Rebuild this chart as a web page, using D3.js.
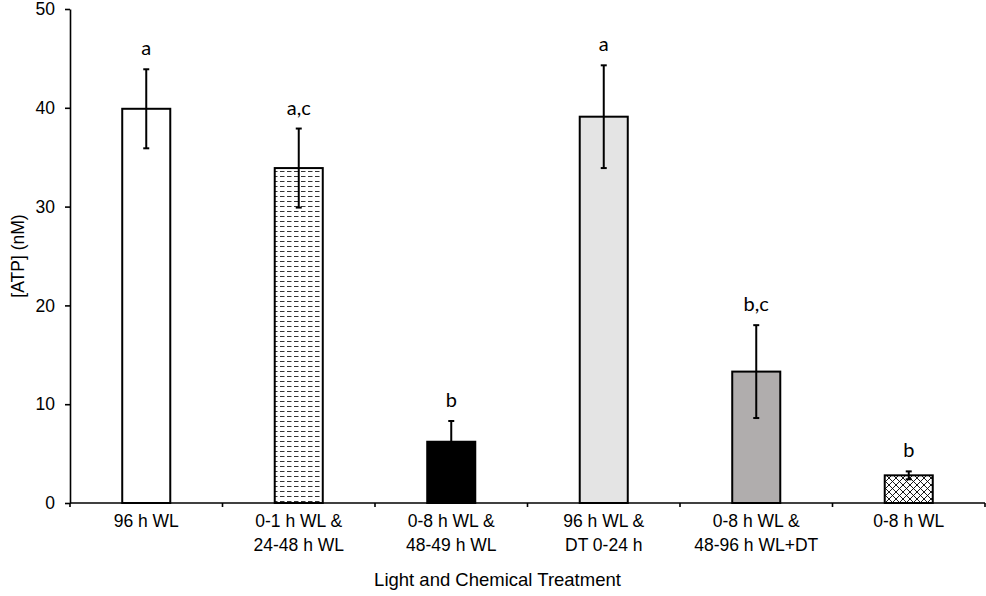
<!DOCTYPE html>
<html>
<head>
<meta charset="utf-8">
<script src="https://cdn.jsdelivr.net/npm/d3@7/dist/d3.min.js"></script>
<style>
  body { margin: 0; background: #fff; }
  svg { display: block; }
  .axis text { font-family: "Liberation Sans", Arial, sans-serif; fill: #000; }
  .axis path, .axis line { stroke: #000; }
</style>
</head>
<body>
<div id="chart"></div>
<script>
var categories = [
  ["96 h WL"],
  ["0-1 h WL &", "24-48 h WL"],
  ["0-8 h WL &", "48-49 h WL"],
  ["96 h WL &", "DT 0-24 h"],
  ["0-8 h WL &", "48-96 h WL+DT"],
  ["0-8 h WL"]
];
var atp    = [39.9, 33.9, 6.2, 39.1, 13.3, 2.8];
var errors = [4.0, 4.0, 2.1, 5.2, 4.7, 0.4];
var letters = ["a", "a,c", "b", "a", "b,c", "b"];
var yTicks = [0, 10, 20, 30, 40, 50];

var margin = {top: 9, left: 70, right: 1, bottom: 93},
    width  = 986 - margin.left - margin.right,
    height = 596 - margin.top  - margin.bottom;

var fills = ["#ffffff", "url(#dashes)", "#000000", "#e4e4e4", "#b0adad", "url(#cross)"];

var svg = d3.select("#chart")
    .append("svg")
    .attr("width", 986)
    .attr("height", 596);

var defs = svg.append("defs");

// horizontal dashed pattern
var dash = defs.append("pattern")
    .attr("id", "dashes")
    .attr("patternUnits", "userSpaceOnUse")
    .attr("width", 7)
    .attr("height", 5);
dash.append("rect").attr("width", 7).attr("height", 5).attr("fill", "#fff");
dash.append("line")
    .attr("x1", 0).attr("x2", 4.5).attr("y1", 2.5).attr("y2", 2.5)
    .attr("stroke", "#000").attr("stroke-width", 0.8);

// cross hatch pattern
var cross = defs.append("pattern")
    .attr("id", "cross")
    .attr("patternUnits", "userSpaceOnUse")
    .attr("width", 7)
    .attr("height", 7);
cross.append("rect").attr("width", 7).attr("height", 7).attr("fill", "#fff");
cross.append("path")
    .attr("d", "M0,0L7,7M7,0L0,7")
    .attr("stroke", "#000").attr("stroke-width", 0.9);

var g = svg.append("g").attr("transform", "translate(" + margin.left + "," + margin.top + ")");

var idx = d3.range(categories.length);

var x = d3.scaleBand().domain(idx).range([0, width]).paddingInner(0.685).paddingOuter(0.3425),
    band = d3.scaleBand().domain(idx).range([0, width]),
    y = d3.scaleLinear().domain([0, 50]).range([height, 0]);

// y axis
var yAxis = g.append("g")
    .attr("class", "axis axis--y")
    .call(d3.axisLeft(y).tickValues(yTicks).tickSize(5).tickSizeOuter(0).tickPadding(10));
yAxis.select(".domain").attr("stroke-width", 1.6);
yAxis.selectAll("line").attr("stroke-width", 1.6);
yAxis.selectAll("text").style("font-size", "17.5px");

// bars
g.selectAll(".bar")
  .data(idx)
  .enter().append("rect")
    .attr("class", "bar")
    .attr("x", function(i) { return x(i); })
    .attr("width", x.bandwidth())
    .attr("y", function(i) { return y(atp[i]); })
    .attr("height", function(i) { return height - y(atp[i]); })
    .attr("fill", function(i) { return fills[i]; })
    .attr("stroke", "#000")
    .attr("stroke-width", 2);

// error bars
var eb = g.selectAll(".err")
  .data(idx)
  .enter().append("g")
    .attr("class", "err")
    .attr("stroke", "#000")
    .attr("stroke-width", 2);
eb.append("line")
    .attr("x1", function(i) { return x(i) + x.bandwidth() / 2; })
    .attr("x2", function(i) { return x(i) + x.bandwidth() / 2; })
    .attr("y1", function(i) { return y(atp[i] + errors[i]); })
    .attr("y2", function(i) { return y(atp[i] - errors[i]); });
eb.append("line")
    .attr("x1", function(i) { return x(i) + x.bandwidth() / 2 - 3; })
    .attr("x2", function(i) { return x(i) + x.bandwidth() / 2 + 3; })
    .attr("y1", function(i) { return y(atp[i] + errors[i]); })
    .attr("y2", function(i) { return y(atp[i] + errors[i]); });
eb.append("line")
    .attr("x1", function(i) { return x(i) + x.bandwidth() / 2 - 3; })
    .attr("x2", function(i) { return x(i) + x.bandwidth() / 2 + 3; })
    .attr("y1", function(i) { return y(atp[i] - errors[i]); })
    .attr("y2", function(i) { return y(atp[i] - errors[i]); });

// significance letters
g.selectAll(".sig")
  .data(idx)
  .enter().append("text")
    .attr("class", "sig")
    .attr("x", function(i) { return x(i) + x.bandwidth() / 2; })
    .attr("y", function(i) { return y(atp[i] + errors[i]) - 14; })
    .attr("text-anchor", "middle")
    .style("font-family", "Lato, 'Open Sans', sans-serif")
    .style("font-size", "20px")
    .text(function(i) { return letters[i]; });

// x axis with ticks at band boundaries
var xAxis = g.append("g")
    .attr("class", "axis axis--x")
    .attr("transform", "translate(0," + height + ")");
xAxis.append("line")
    .attr("x1", 0).attr("x2", width)
    .attr("stroke", "#000").attr("stroke-width", 1.6);
xAxis.selectAll(".tick-b")
  .data(d3.range(categories.length + 1))
  .enter().append("line")
    .attr("x1", function(i) { return i * band.step(); })
    .attr("x2", function(i) { return i * band.step(); })
    .attr("y1", 0).attr("y2", 4)
    .attr("stroke", "#000").attr("stroke-width", 1.6);

var labels = xAxis.selectAll(".xlab")
  .data(idx)
  .enter().append("text")
    .attr("class", "xlab")
    .attr("text-anchor", "middle")
    .attr("transform", function(i) { return "translate(" + (band(i) + band.bandwidth() / 2) + ",24)"; })
    .style("font-size", "17.5px");
labels.selectAll("tspan")
    .data(function(i) { return categories[i]; })
  .enter().append("tspan")
    .attr("x", 0)
    .attr("dy", function(d, j) { return j ? 24 : 0; })
    .text(function(d) { return d; });

// axis titles
svg.append("text")
    .attr("x", margin.left + width / 2 - 30)
    .attr("y", 586)
    .attr("text-anchor", "middle")
    .style("font-family", "'Liberation Sans', Arial, sans-serif")
    .style("font-size", "18.5px")
    .text("Light and Chemical Treatment");

svg.append("text")
    .attr("transform", "translate(24," + (margin.top + height / 2) + ") rotate(-90)")
    .attr("text-anchor", "middle")
    .style("font-family", "'Liberation Sans', Arial, sans-serif")
    .style("font-size", "17.5px")
    .text("[ATP] (nM)");
</script>
</body>
</html>
